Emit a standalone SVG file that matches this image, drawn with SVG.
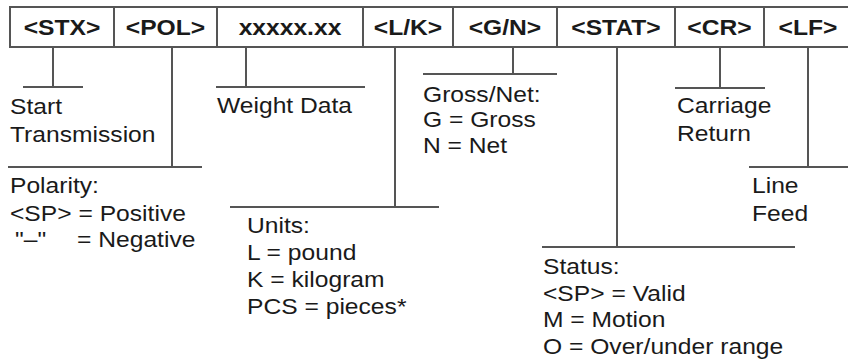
<svg xmlns="http://www.w3.org/2000/svg" width="848" height="361" viewBox="0 0 848 361">
<style>
.cell{fill:#fff;stroke:#555;stroke-width:2}
.hd{font-family:"Liberation Sans",Arial,sans-serif;font-weight:bold;font-size:22px;fill:#1a1a1a;text-anchor:middle}
.tx{font-family:"Liberation Sans",Arial,sans-serif;font-size:22px;fill:#1a1a1a}
.cn line{stroke:#555;stroke-width:2}
</style>
<rect width="848" height="361" fill="#fff"/>
<g id="header">
<g id="f-stx"><rect class="cell" x="10" y="7" width="104" height="40"/><text class="hd" transform="scale(1.12 1)" x="55.36" y="35">&lt;STX&gt;</text></g>
<g id="f-pol"><rect class="cell" x="114" y="7" width="103" height="40"/><text class="hd" transform="scale(1.12 1)" x="147.77" y="35">&lt;POL&gt;</text></g>
<g id="f-wt"><rect class="cell" x="217" y="7" width="146" height="40"/><text class="hd" transform="scale(1.12 1)" x="258.93" y="35">xxxxx.xx</text></g>
<g id="f-lk"><rect class="cell" x="363" y="7" width="90" height="40"/><text class="hd" transform="scale(1.12 1)" x="364.29" y="35">&lt;L/K&gt;</text></g>
<g id="f-gn"><rect class="cell" x="453" y="7" width="104" height="40"/><text class="hd" transform="scale(1.12 1)" x="450.89" y="35">&lt;G/N&gt;</text></g>
<g id="f-stat"><rect class="cell" x="557" y="7" width="118" height="40"/><text class="hd" transform="scale(1.12 1)" x="550" y="35">&lt;STAT&gt;</text></g>
<g id="f-cr"><rect class="cell" x="675" y="7" width="89" height="40"/><text class="hd" transform="scale(1.12 1)" x="642.41" y="35">&lt;CR&gt;</text></g>
<g id="f-lf"><rect class="cell" x="764" y="7" width="90" height="40"/><text class="hd" transform="scale(1.12 1)" x="721.43" y="35">&lt;LF&gt;</text></g>
</g>
<g id="connectors" class="cn">
<line x1="53" y1="47" x2="53" y2="87"/><line x1="23" y1="87" x2="83" y2="87"/>
<line x1="172" y1="47" x2="172" y2="167"/><line x1="8" y1="167" x2="202" y2="167"/>
<line x1="246" y1="47" x2="246" y2="87"/><line x1="216" y1="87" x2="365" y2="87"/>
<line x1="395" y1="47" x2="395" y2="207"/><line x1="230" y1="207" x2="439" y2="207"/>
<line x1="513" y1="47" x2="513" y2="74"/><line x1="423" y1="74" x2="557" y2="74"/>
<line x1="617" y1="47" x2="617" y2="247"/><line x1="542" y1="247" x2="795" y2="247"/>
<line x1="720" y1="47" x2="720" y2="88"/><line x1="675" y1="88" x2="765" y2="88"/>
<line x1="808" y1="47" x2="808" y2="167"/><line x1="749" y1="167" x2="848" y2="167"/>
</g>
<g class="tx" transform="scale(1.12 1)">
<g id="d-stx"><text x="8.93" y="114">Start</text><text x="8.93" y="142">Transmission</text></g>
<g id="d-pol"><text x="8.93" y="193">Polarity:</text><text x="8.93" y="221">&lt;SP&gt; = Positive</text><text y="247"><tspan x="13.39">"–"</tspan><tspan x="68.75">= Negative</tspan></text></g>
<g id="d-wt"><text x="193.75" y="113">Weight Data</text></g>
<g id="d-lk"><text x="220.54" y="233">Units:</text><text x="220.54" y="260">L = pound</text><text x="220.54" y="287">K = kilogram</text><text x="220.54" y="314">PCS = pieces*</text></g>
<g id="d-gn"><text x="377.68" y="102">Gross/Net:</text><text x="377.68" y="127">G = Gross</text><text x="377.68" y="153">N = Net</text></g>
<g id="d-stat"><text x="484.82" y="274">Status:</text><text x="484.82" y="301">&lt;SP&gt; = Valid</text><text x="484.82" y="327">M = Motion</text><text x="484.82" y="354">O = Over/under range</text></g>
<g id="d-cr"><text x="604.46" y="113">Carriage</text><text x="604.46" y="141">Return</text></g>
<g id="d-lf"><text x="671.43" y="193">Line</text><text x="671.43" y="221">Feed</text></g>
</g>
</svg>
